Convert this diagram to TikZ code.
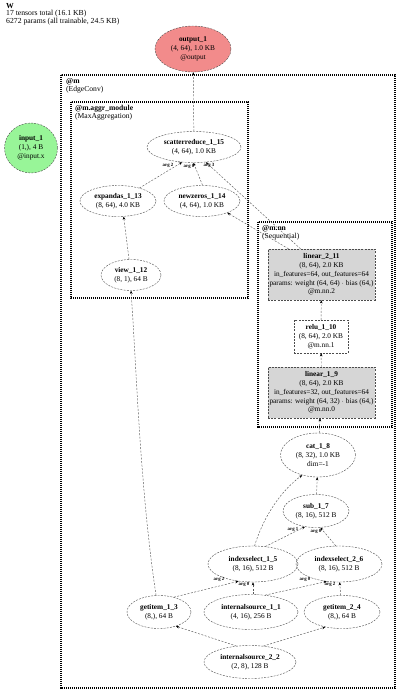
\documentclass[tikz,border=0pt]{standalone}
\usepackage{fontspec}
\setmainfont{Liberation Serif}
\usetikzlibrary{shapes.geometric,arrows.meta}
\newcommand{\fsn}{\fontsize{7.3}{8.8}\selectfont}
\newcommand{\fsc}{\fontsize{7.6}{7.4}\selectfont}
\newcommand{\fsl}{\fontsize{4.8}{5}\selectfont\bfseries}
\definecolor{outred}{HTML}{F28B8B}
\definecolor{ingreen}{HTML}{98F598}
\definecolor{lingray}{HTML}{D6D6D6}
\tikzset{
  tnode/.style={ellipse, draw=black!70, dashed, dash pattern=on 2pt off 1.2pt, line width=0.4pt, inner sep=0pt, align=center, font=\fsn},
  tbox/.style={rectangle, draw=black!70, dashed, dash pattern=on 2pt off 1.2pt, line width=0.4pt, inner sep=0pt, align=center, font=\fsn},
  cluster/.style={draw=black, line width=2.2pt, dash pattern=on 1.1pt off 0.9pt},
  clabel/.style={anchor=north west, align=left, inner sep=0pt, font=\fsc},
  edge/.style={draw=black!65, dash pattern=on 2pt off 1.5pt, line width=0.45pt, -{Stealth[length=3.2pt,width=2.6pt,black]}},
  lbl/.style={font=\fsl, inner sep=0.5pt}
}
\begin{document}
\begin{tikzpicture}[x=1pt,y=-1pt]
\useasboundingbox (0,0) rectangle (400,694);
% title
\node[anchor=north west, align=left, inner sep=0pt, font=\fontsize{7.7}{7.4}\selectfont] (title) at (6,3) {\textbf{W}\\17 tensors total (16.1 KB)\\6272 params (all trainable, 24.5 KB)};
% clusters
\draw[cluster] (61,75) rectangle (395,688);
\node[clabel] (lm) at (66,78.5) {\textbf{@m}\\(EdgeConv)};
\draw[cluster] (71,102) rectangle (248,298);
\node[clabel] (lagg) at (75,105.5) {\textbf{@m.aggr\_module}\\(MaxAggregation)};
\draw[cluster] (258,222) rectangle (392,427);
\node[clabel] (lnn) at (262,225.5) {\textbf{@m.nn}\\(Sequential)};
% nodes
\node[tnode, fill=outred, minimum width=76pt, minimum height=46pt] (out) at (193,49) {\textbf{output\_1}\\(4, 64), 1.0 KB\\@output};
\node[tnode, fill=ingreen, minimum width=53pt, minimum height=50pt] (in) at (31,148) {\textbf{input\_1}\\(1,), 4 B\\@input.x};
\node[tnode, minimum width=94pt, minimum height=31pt] (scat) at (194,147) {\textbf{scatterreduce\_1\_15}\\(4, 64), 1.0 KB};
\node[tnode, minimum width=76pt, minimum height=31pt] (expa) at (118,201) {\textbf{expandas\_1\_13}\\(8, 64), 4.0 KB};
\node[tnode, minimum width=76pt, minimum height=31pt] (newz) at (202,201) {\textbf{newzeros\_1\_14}\\(4, 64), 1.0 KB};
\node[tnode, minimum width=60pt, minimum height=31pt] (view) at (131,275) {\textbf{view\_1\_12}\\(8, 1), 64 B};
\node[tbox, fill=lingray, minimum width=107pt, minimum height=51pt] (lin2) at (321.5,274.5) {\textbf{linear\_2\_11}\\(8, 64), 2.0 KB\\in\_features=64, out\_features=64\\params: weight (64, 64) $\cdot$ bias (64,)\\@m.nn.2};
\node[tbox, minimum width=54pt, minimum height=33pt] (relu) at (321,336.5) {\textbf{relu\_1\_10}\\(8, 64), 2.0 KB\\@m.nn.1};
\node[tbox, fill=lingray, minimum width=107pt, minimum height=51pt] (lin1) at (321.5,392.5) {\textbf{linear\_1\_9}\\(8, 64), 2.0 KB\\in\_features=32, out\_features=64\\params: weight (64, 32) $\cdot$ bias (64,)\\@m.nn.0};
\node[tnode, minimum width=75pt, minimum height=44pt] (cat) at (318,455) {\textbf{cat\_1\_8}\\(8, 32), 1.0 KB\\dim=-1};
\node[tnode, minimum width=66pt, minimum height=33pt] (sub) at (316,511) {\textbf{sub\_1\_7}\\(8, 16), 512 B};
\node[tnode, minimum width=90pt, minimum height=36pt] (is1) at (253,564) {\textbf{indexselect\_1\_5}\\(8, 16), 512 B};
\node[tnode, minimum width=86pt, minimum height=36pt] (is2) at (339,564) {\textbf{indexselect\_2\_6}\\(8, 16), 512 B};
\node[tnode, minimum width=64pt, minimum height=33pt] (gi1) at (159,612) {\textbf{getitem\_1\_3}\\(8,), 64 B};
\node[tnode, minimum width=94pt, minimum height=35pt] (src1) at (251,612) {\textbf{internalsource\_1\_1}\\(4, 16), 256 B};
\node[tnode, minimum width=76pt, minimum height=33pt] (gi2) at (342,612) {\textbf{getitem\_2\_4}\\(8,), 64 B};
\node[tnode, minimum width=92pt, minimum height=33pt] (src2) at (250,662) {\textbf{internalsource\_2\_2}\\(2, 8), 128 B};
% edges
\draw[edge] (scat) -- (out);
\draw[edge] (expa) -- (scat.232) node[lbl, at={(168,165.5)}] {arg 2};
\draw[edge] (newz.88) -- (scat.268) node[lbl, at={(189,166.5)}] {arg 0};
\draw[edge] ([xshift=-21pt]lin2.north) -- (scat.308) node[lbl, at={(209,165.5)}] {arg 3};
\draw[edge] ([xshift=-33pt]lin2.north) -- (newz.335);
\draw[edge] (view) -- (expa.290);
\draw[edge] (gi1.100) .. controls (140,490) and (136,360) .. (view.south);
\draw[edge] (relu) -- (lin2);
\draw[edge] (lin1) -- (relu);
\draw[edge] (cat) -- (lin1);
\draw[edge] (sub) -- (cat);
\draw[edge] (is1.85) .. controls (264,515) and (282,490) .. (cat.232);
\draw[edge] (is1.55) -- (sub.235) node[lbl, at={(293,529)}] {arg 1};
\draw[edge] (is2.100) -- (sub.285) node[lbl, at={(316,531)}] {arg 0};
\draw[edge] (src1.north -| is1) -- (is1) node[lbl, at={(244,584)}] {arg 0};
\draw[edge] (src1.50) -- (is2.235) node[lbl, at={(305,579)}] {arg 0};
\draw[edge] (gi1.45) -- (is1.230) node[lbl, at={(219,579)}] {arg 2};
\draw[edge] (gi2) -- (is2.272) node[lbl, at={(330,584)}] {arg 2};
\draw[edge] (src2.130) -- (gi1.320);
\draw[edge] (src2.50) -- (gi2.222);
\end{tikzpicture}
\end{document}
